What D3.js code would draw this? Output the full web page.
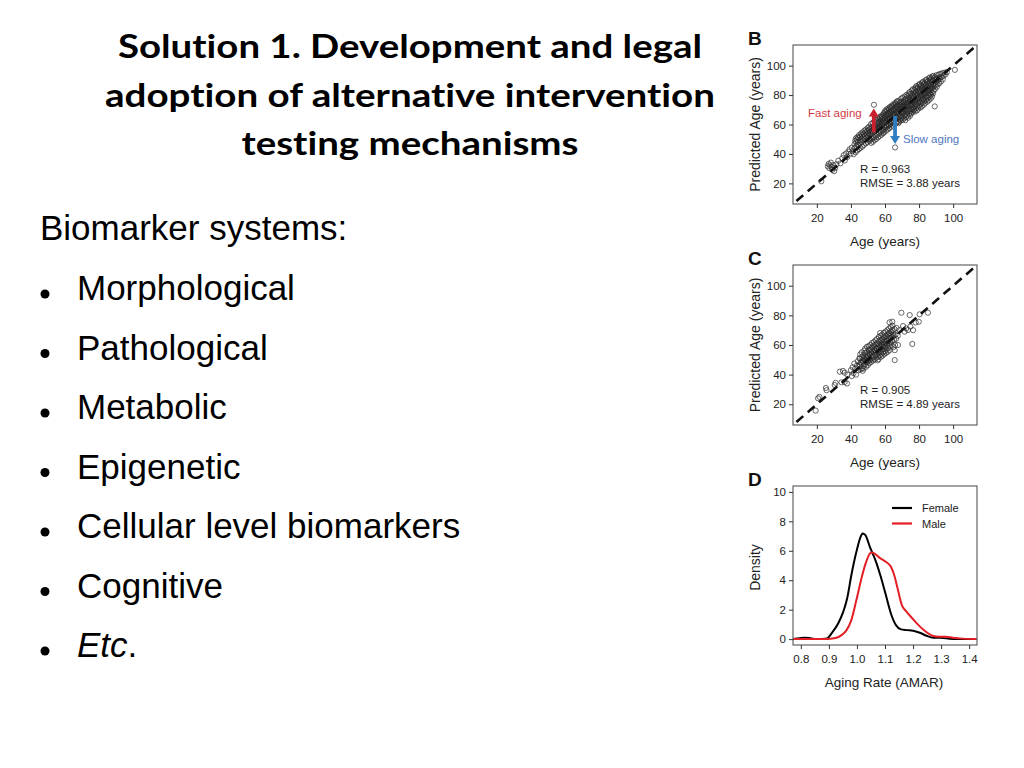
<!DOCTYPE html>
<html><head><meta charset="utf-8">
<script src="https://cdn.jsdelivr.net/npm/d3@7"></script>
<style>body{margin:0;background:#fff}svg{display:block}text{font-variant-ligatures:none;font-feature-settings:"liga" 0,"clig" 0}</style>
</head><body><svg id="c" width="1024" height="768"></svg>
<script>
// ---------------- DATA ----------------
const titleLines = ["Solution 1. Development and legal", "adoption of alternative intervention", "testing mechanisms"];
const bulletHeader = "Biomarker systems:";
const bulletItems = ["Morphological", "Pathological", "Metabolic", "Epigenetic", "Cellular level biomarkers", "Cognitive", "Etc."];

const scatterTicks = [20, 40, 60, 80, 100];
const densityXTicks = [0.8, 0.9, 1.0, 1.1, 1.2, 1.3, 1.4];
const densityYTicks = [0, 2, 4, 6, 8, 10];

const statsB = ["R = 0.963", "RMSE = 3.88 years"];
const statsC = ["R = 0.905", "RMSE = 4.89 years"];
const legendLabels = ["Female", "Male"];
const arrowLabels = ["Fast aging", "Slow aging"];
// arrows: [age, from predicted, to predicted]
const fastArrow = [53.4, 54.6, 70.8];
const slowArrow = [65.9, 65.8, 46.8];

// Panel B points [age, predicted age]
const panelBPoints = [
[22.6,21.4],[26.4,31.6],[26.9,33.2],[27.3,30.4],[27.8,32.3],[28.2,34.1],[28.7,31.0],[29.1,29.2],[29.6,32.4],[30.2,28.3],[30.8,30.6],[31.5,33.0],[32.6,35.4],[33.8,33.6],[34.9,37.1],[35.8,39.2],[36.4,35.6],[37.1,40.3],[37.9,38.0],[38.6,41.6],[39.2,43.1],[39.9,40.2],[40.5,44.3],[41.0,42.0],[41.6,39.8],
[42.3,44.1],[42.5,48.9],[42.8,41.2],[42.1,46.5],[42.9,50.6],
[43.2,45.3],[43.5,49.8],[43.7,42.4],[43.1,47.9],[43.9,51.5],
[44.2,46.1],[44.4,50.9],[44.7,43.3],[44.1,48.2],[44.8,52.8],
[45.3,47.2],[45.5,51.6],[45.6,44.1],[45.2,49.3],[45.9,53.9],
[46.2,48.1],[46.4,52.7],[46.7,45.0],[46.1,50.3],[46.8,54.6],
[47.3,49.2],[47.5,53.5],[47.6,46.2],[47.2,51.1],[47.9,55.8],
[48.2,50.0],[48.4,54.6],[48.7,47.1],[48.1,52.3],[48.8,56.6],
[49.3,51.1],[49.5,55.4],[49.6,48.0],[49.2,53.2],[49.9,57.7],
[50.2,52.1],[50.4,56.3],[50.7,48.9],[50.1,54.2],[50.8,58.6],[50.5,50.2],
[51.1,52.8],[51.3,57.2],[51.5,49.6],[51.6,55.1],[51.8,60.3],[51.9,47.5],[51.4,54.0],
[52.1,53.6],[52.3,58.1],[52.5,50.4],[52.6,56.0],[52.8,61.1],[52.9,48.3],[52.4,55.2],
[53.1,54.5],[53.3,59.0],[53.5,51.3],[53.6,57.1],[53.8,62.2],[53.9,49.4],[53.4,56.3],[53.5,73.4],
[54.1,55.3],[54.3,59.8],[54.5,52.2],[54.6,58.0],[54.8,63.1],[54.9,50.2],[54.4,57.2],
[55.1,56.4],[55.3,60.9],[55.5,53.0],[55.6,58.8],[55.8,64.2],[55.9,51.3],[55.4,57.9],
[56.1,57.3],[56.3,61.8],[56.5,54.1],[56.6,59.7],[56.8,65.0],[56.9,52.2],[56.4,58.6],[56.2,63.4],
[57.1,58.2],[57.3,62.6],[57.5,55.0],[57.6,60.6],[57.8,65.9],[57.9,53.1],[57.4,59.5],[57.2,64.2],
[58.1,59.1],[58.3,63.5],[58.5,55.9],[58.6,61.5],[58.8,66.8],[58.9,54.0],[58.4,60.4],[58.2,65.1],
[59.0,60.0],[59.1,64.4],[59.2,56.8],[59.3,62.3],[59.4,67.6],[59.5,54.9],[59.6,61.3],[59.7,66.0],[59.8,58.4],[59.9,69.0],
[60.0,61.1],[60.1,65.2],[60.2,57.6],[60.3,63.4],[60.4,68.5],[60.5,55.7],[60.6,62.1],[60.7,66.9],[60.8,59.3],[60.9,70.2],
[61.0,62.0],[61.1,66.3],[61.2,58.5],[61.3,64.1],[61.4,69.4],[61.5,56.6],[61.6,63.2],[61.7,67.8],[61.8,60.1],[61.9,71.0],
[62.0,62.8],[62.1,67.1],[62.2,59.4],[62.3,65.2],[62.4,70.3],[62.5,57.5],[62.6,64.0],[62.7,68.7],[62.8,61.2],[62.9,71.9],
[63.0,63.7],[63.1,68.0],[63.2,60.3],[63.3,66.1],[63.4,71.2],[63.5,58.4],[63.6,64.9],[63.7,69.6],[63.8,62.0],[63.9,72.8],
[64.0,64.6],[64.1,68.9],[64.2,61.2],[64.3,67.0],[64.4,72.1],[64.5,59.3],[64.6,65.8],[64.7,70.5],[64.8,62.9],[64.9,73.7],
[65.0,65.5],[65.1,69.8],[65.2,62.1],[65.3,67.9],[65.4,73.0],[65.5,60.2],[65.6,66.7],[65.7,71.4],[65.8,63.8],[65.9,74.6],
[66.0,66.4],[66.1,70.7],[66.2,63.0],[66.3,68.8],[66.4,73.9],[66.5,61.1],[66.6,67.6],[66.7,72.3],[66.8,64.7],[66.9,75.5],[65.9,44.4],
[67.0,71.9],[67.1,64.2],[67.2,69.0],[67.3,75.8],[67.4,62.1],[67.5,68.0],[67.6,73.3],[67.7,66.1],[67.8,70.4],[67.9,60.9],
[68.0,67.3],[68.1,73.6],[68.2,61.8],[68.3,70.1],[68.4,76.4],[68.5,65.0],[68.6,71.8],[68.7,63.4],[68.8,69.3],[68.9,74.9],
[69.0,70.8],[69.1,66.2],[69.2,75.1],[69.3,62.7],[69.4,72.4],[69.5,68.5],[69.6,77.6],[69.7,64.3],[69.8,71.2],[69.9,67.4],
[70.0,73.7],[70.1,65.4],[70.2,70.3],[70.3,78.2],[70.4,63.2],[70.5,71.9],[70.6,67.8],[70.7,75.6],[70.8,69.1],[70.9,72.8],
[71.0,68.6],[71.1,75.2],[71.2,64.1],[71.3,72.3],[71.4,79.0],[71.5,66.7],[71.6,73.8],[71.7,70.2],[71.8,77.1],[71.9,62.9],
[72.0,71.6],[72.1,67.3],[72.2,76.9],[72.3,65.0],[72.4,74.2],[72.5,69.8],[72.6,80.1],[72.7,72.9],[72.8,68.2],[72.9,75.7],
[73.0,74.8],[73.1,66.1],[73.2,72.0],[73.3,79.4],[73.4,69.3],[73.5,77.2],[73.6,64.6],[73.7,73.1],[73.8,70.7],[73.9,81.0],
[74.0,72.5],[74.1,78.3],[74.2,67.2],[74.3,75.4],[74.4,82.0],[74.5,70.1],[74.6,76.8],[74.7,65.9],[74.8,73.6],[74.9,79.7],
[75.0,76.2],[75.1,69.0],[75.2,80.8],[75.3,73.4],[75.4,67.5],[75.5,78.1],[75.6,71.7],[75.7,83.1],[75.8,74.9],[75.9,70.3],
[76.0,73.2],[76.1,79.6],[76.2,68.4],[76.3,77.0],[76.4,84.0],[76.5,71.3],[76.6,75.5],[76.7,81.8],[76.8,69.7],[76.9,78.4],
[77.0,78.9],[77.1,70.2],[77.2,75.1],[77.3,83.6],[77.4,72.6],[77.5,80.4],[77.6,68.8],[77.7,76.7],[77.8,85.0],[77.9,74.0],
[78.0,76.3],[78.1,82.2],[78.2,71.0],[78.3,79.3],[78.4,86.1],[78.5,73.9],[78.6,77.8],[78.7,84.4],[78.8,69.6],[78.9,80.9],
[79.0,80.1],[79.1,72.4],[79.2,77.3],[79.3,85.3],[79.4,74.8],[79.5,82.6],[79.6,70.9],[79.7,78.6],[79.8,86.9],[79.9,76.0],
[80.0,78.1],[80.1,84.0],[80.2,72.8],[80.3,81.1],[80.4,87.6],[80.5,75.4],[80.6,79.7],[80.7,85.9],[80.8,71.5],[80.9,82.8],
[81.0,81.7],[81.1,74.2],[81.2,78.9],[81.3,86.8],[81.4,76.4],[81.5,84.1],[81.6,72.3],[81.7,80.2],[81.8,88.5],[81.9,77.6],
[82.0,79.8],[82.1,85.5],[82.2,74.9],[82.3,82.7],[82.4,89.1],[82.5,77.2],[82.6,81.1],[82.7,87.3],[82.8,73.4],[82.9,84.2],
[83.0,83.4],[83.1,76.0],[83.2,80.6],[83.3,88.2],[83.4,78.1],[83.5,85.8],[83.6,74.6],[83.7,82.0],[83.8,90.0],[83.9,79.3],
[84.0,81.5],[84.1,87.0],[84.2,76.8],[84.3,84.5],[84.4,90.6],[84.5,79.0],[84.6,82.9],[84.7,88.8],[84.8,75.5],[84.9,85.9],
[85.0,85.1],[85.1,78.0],[85.2,82.4],[85.3,89.6],[85.4,80.0],[85.5,87.2],[85.6,76.5],[85.7,83.7],[85.8,91.4],[85.9,81.2],
[86.0,83.2],[86.1,88.6],[86.2,78.9],[86.3,86.0],[86.4,92.0],[86.5,80.8],[86.6,84.6],[86.7,90.3],[86.8,77.6],[86.9,87.5],
[87.0,86.9],[87.1,80.2],[87.2,84.1],[87.3,91.1],[87.4,82.0],[87.5,88.7],[87.6,79.0],[87.7,85.5],[87.8,92.6],
[88.0,84.8],[88.1,90.0],[88.2,81.1],[88.3,87.6],[88.4,93.0],[88.5,82.9],[88.6,86.2],[88.7,91.5],
[89.0,88.1],[89.2,72.3],[89.3,84.0],[89.5,92.2],[89.7,86.5],[89.9,90.8],
[90.1,89.0],[90.3,93.6],[90.5,85.6],[90.8,91.2],[90.9,87.4],
[91.2,90.1],[91.5,93.9],[91.8,87.9],[91.9,92.0],
[92.2,91.0],[92.5,94.4],[92.8,89.2],
[93.2,92.3],[93.6,94.8],[93.9,90.6],
[94.3,93.0],[94.8,95.2],[95.5,94.0],[96.3,95.6],[101.0,97.1]
];

// Panel C points [age, predicted age]
const panelCPoints = [
[19.3,15.7],[20.7,24.0],[21.5,25.0],[25.3,31.0],[25.7,29.5],[30.5,33.0],[31.0,34.5],[33.5,42.0],[34.5,34.8],[35.3,42.5],[36.3,41.3],[36.3,35.0],[37.7,34.0],[38.0,40.0],
[40.0,43.0],[40.5,39.0],[41.0,45.0],[41.5,41.0],[42.0,47.5],[42.5,44.0],[43.0,40.0],[43.5,46.0],[44.0,49.0],[44.5,43.0],[45.0,45.5],[45.0,51.0],
[45.1,46.8],[45.3,50.9],[45.6,43.5],[45.8,48.2],[45.4,53.6],
[46.1,47.5],[46.4,44.2],[46.6,51.8],[46.8,49.0],[46.3,55.0],[46.9,42.6],
[47.1,49.6],[47.3,53.1],[47.5,46.0],[47.7,51.2],[47.9,56.3],[47.4,44.1],
[48.1,50.2],[48.3,47.1],[48.5,54.7],[48.7,52.0],[48.9,45.3],[48.4,57.6],[48.6,49.0],
[49.1,51.6],[49.3,48.2],[49.5,55.3],[49.7,53.0],[49.9,46.4],[49.4,58.8],[49.6,50.1],
[50.1,52.5],[50.3,49.3],[50.5,56.6],[50.7,54.1],[50.9,47.8],[50.4,59.2],[50.6,51.0],
[51.1,53.8],[51.3,50.0],[51.5,57.4],[51.7,55.2],[51.9,48.6],[51.4,60.1],
[52.1,54.1],[52.3,51.2],[52.5,58.3],[52.7,56.0],[52.9,49.5],[52.4,61.3],[52.6,53.0],
[53.1,55.4],[53.3,52.0],[53.5,59.6],[53.7,57.1],[53.9,50.3],[53.4,62.0],
[54.1,56.2],[54.3,53.1],[54.5,60.4],[54.7,58.0],[54.9,51.4],[54.4,63.2],[54.6,55.0],
[55.1,57.5],[55.3,54.0],[55.5,61.2],[55.7,59.0],[55.9,52.1],[55.4,64.1],[55.6,49.6],
[56.1,58.1],[56.3,55.2],[56.5,62.5],[56.7,60.1],[56.9,53.0],[56.4,65.4],[56.6,57.0],[56.2,50.4],
[57.1,59.0],[57.3,56.1],[57.5,63.3],[57.7,61.0],[57.9,54.2],[57.4,66.2],[57.6,52.0],[57.2,68.1],
[58.1,60.2],[58.3,57.0],[58.5,64.1],[58.7,62.0],[58.9,55.1],[58.4,67.0],[58.6,52.8],[58.2,59.0],
[59.1,61.0],[59.3,58.2],[59.5,65.2],[59.7,63.1],[59.9,56.0],[59.4,68.3],[59.6,53.9],[59.2,60.0],
[60.1,62.1],[60.3,59.0],[60.5,66.0],[60.7,64.0],[60.9,57.1],[60.4,69.1],[60.6,54.7],[60.2,61.0],
[61.1,63.0],[61.3,60.1],[61.5,67.2],[61.7,65.1],[61.9,58.0],[61.4,70.0],[61.6,55.5],
[62.1,63.8],[62.3,61.0],[62.5,68.0],[62.7,66.0],[62.9,59.1],[62.4,71.2],[62.6,56.4],[62.7,75.3],
[63.1,64.6],[63.3,62.0],[63.5,69.1],[63.7,67.0],[63.9,60.0],[63.4,72.0],[64.3,75.7],
[64.1,65.5],[64.3,62.8],[64.5,70.0],[64.7,67.8],[64.9,58.5],[64.4,73.0],
[65.1,66.3],[65.3,63.5],[65.5,70.8],[65.7,56.5],[65.9,60.0],[65.7,49.8],
[66.1,67.0],[66.5,64.2],[66.8,71.5],[67.6,60.0],[67.5,66.2],[68.5,70.0],
[69.6,81.8],[70.6,72.8],[71.5,69.0],[72.5,71.2],[73.5,70.1],[74.5,80.2],[74.9,72.5],[76.0,60.7],[76.5,70.0],[78.0,75.2],[79.8,75.7],[80.3,80.7],[85.2,81.8]
];

// Panel D density curves [aging rate, density]
const femaleDensity = [
[0.773,0.0],[0.795,0.06],[0.814,0.10],[0.835,0.06],[0.856,0.0],[0.875,0.01],[0.894,0.05],[0.910,0.40],[0.933,1.06],[0.951,1.85],[0.965,2.76],[0.980,4.34],[0.998,5.93],[1.013,6.95],[1.020,7.17],[1.030,7.06],[1.046,6.27],[1.068,5.25],[1.085,4.23],[1.103,2.99],[1.121,1.74],[1.139,0.95],[1.157,0.66],[1.177,0.61],[1.200,0.57],[1.224,0.43],[1.248,0.23],[1.272,0.09],[1.295,0.09],[1.319,0.05],[1.355,0.0],[1.426,0.0]
];
const maleDensity = [
[0.773,0.0],[0.820,0.0],[0.868,0.0],[0.897,0.01],[0.927,0.09],[0.945,0.27],[0.963,0.61],[0.980,1.29],[0.998,2.65],[1.016,4.12],[1.031,5.14],[1.046,5.81],[1.052,5.88],[1.063,5.81],[1.081,5.52],[1.103,5.25],[1.121,4.91],[1.133,4.34],[1.145,3.44],[1.160,2.31],[1.175,1.90],[1.198,1.40],[1.222,0.90],[1.246,0.50],[1.269,0.23],[1.293,0.16],[1.317,0.16],[1.341,0.09],[1.364,0.05],[1.426,0.0]
];

// ---------------- DRAWING ----------------
const svg = d3.select("#c");
const SANS = "'Liberation Sans', Arial, Helvetica, sans-serif";
const AX = "#333";

// Title
const titleWidths = [584, 610, 337];
titleLines.forEach((t, i) => {
  svg.append("text")
    .attr("x", 410).attr("y", 58 + i * 48.5)
    .attr("text-anchor", "middle")
    .attr("font-family", "Lato, 'Open Sans', sans-serif")
    .attr("font-weight", 700).attr("font-size", 33)
    .attr("textLength", titleWidths[i]).attr("lengthAdjust", "spacingAndGlyphs")
    .attr("fill", "#000").text(t);
});

// Bullet list
svg.append("text").attr("x", 40).attr("y", 240)
  .attr("font-family", SANS).attr("font-size", 35).attr("fill", "#000").text(bulletHeader);
bulletItems.forEach((t, i) => {
  const yb = 300 + i * 59.5;
  svg.append("circle").attr("cx", 45).attr("cy", yb - 6).attr("r", 4.5).attr("fill", "#000");
  const tx = svg.append("text").attr("x", 77).attr("y", yb)
    .attr("font-family", SANS).attr("font-size", 35).attr("fill", "#000");
  if (t === "Etc.") {
    tx.append("tspan").attr("font-style", "italic").text("Etc");
    tx.append("tspan").text(".");
  } else tx.text(t);
});

const L = 793, R = 977;

function styleAxis(g) {
  g.select(".domain").remove();
  g.selectAll(".tick line").attr("stroke", AX).attr("stroke-width", 1);
  g.selectAll(".tick text").attr("fill", "#222").attr("font-family", SANS).attr("font-size", 11.5);
}

function frame(T, B) {
  svg.append("rect").attr("x", L).attr("y", T).attr("width", R - L).attr("height", B - T)
    .attr("fill", "none").attr("stroke", "#444").attr("stroke-width", 1);
}

function scatterPanel(T, B, pts, letter, stats, withArrows) {
  const x = d3.scaleLinear().domain([6, 114]).range([L, R]);
  const y = d3.scaleLinear().domain([6, 114]).range([B, T]);
  const clipId = "clip" + letter;
  svg.append("clipPath").attr("id", clipId).append("rect")
    .attr("x", L).attr("y", T).attr("width", R - L).attr("height", B - T);
  const g = svg.append("g").attr("clip-path", `url(#${clipId})`);
  g.selectAll("circle").data(pts).join("circle")
    .attr("cx", d => x(d[0])).attr("cy", d => y(d[1])).attr("r", 2.6)
    .attr("fill", "none").attr("stroke", "#2a2a2a").attr("stroke-width", 0.7);
  g.append("line")
    .attr("x1", x(8)).attr("y1", y(8)).attr("x2", x(114)).attr("y2", y(114))
    .attr("stroke", "#111").attr("stroke-width", 2.6).attr("stroke-dasharray", "9,6");
  frame(T, B);
  svg.append("g").attr("transform", `translate(0,${B})`)
    .call(d3.axisBottom(x).tickValues(scatterTicks).tickSize(4).tickPadding(6)).call(styleAxis);
  svg.append("g").attr("transform", `translate(${L},0)`)
    .call(d3.axisLeft(y).tickValues(scatterTicks).tickSize(4).tickPadding(3)).call(styleAxis);
  svg.append("text").attr("x", 885).attr("y", B + 42).attr("text-anchor", "middle")
    .attr("font-family", SANS).attr("font-size", 13.5).attr("fill", "#222").text("Age (years)");
  svg.append("text").attr("transform", `translate(760,${(T + B) / 2}) rotate(-90)`)
    .attr("text-anchor", "middle").attr("font-family", SANS).attr("font-size", 14).attr("fill", "#222")
    .text("Predicted Age (years)");
  svg.append("text").attr("x", 748).attr("y", T).attr("font-family", SANS).attr("font-weight", 700)
    .attr("font-size", 19).attr("fill", "#111").text(letter);
  stats.forEach((s, i) => {
    svg.append("text").attr("x", 860).attr("y", B - 31 + i * 13.7)
      .attr("font-family", SANS).attr("font-size", 11.5).attr("fill", "#222").text(s);
  });
  if (withArrows) {
    const arrow = (a, col) => {
      const ax = x(a[0]), y0 = y(a[1]), y1 = y(a[2]);
      const dir = y1 < y0 ? -1 : 1;
      svg.append("line").attr("x1", ax).attr("x2", ax).attr("y1", y0).attr("y2", y1 - dir * 7)
        .attr("stroke", col).attr("stroke-width", 3.8);
      svg.append("path").attr("d", `M${ax - 5},${y1 - dir * 8}L${ax + 5},${y1 - dir * 8}L${ax},${y1}Z`).attr("fill", col);
    };
    arrow(fastArrow, "#c8202f");
    arrow(slowArrow, "#2f7ec2");
    svg.append("text").attr("x", 808).attr("y", y(fastArrow[2]) + 8).attr("font-family", SANS)
      .attr("font-size", 11.5).attr("fill", "#d23a47").text(arrowLabels[0]);
    svg.append("text").attr("x", 903).attr("y", y(slowArrow[2]) - 1).attr("font-family", SANS)
      .attr("font-size", 11.5).attr("fill", "#4f76bb").text(arrowLabels[1]);
  }
}

scatterPanel(45, 204, panelBPoints, "B", statsB, true);
scatterPanel(265, 425, panelCPoints, "C", statsC, false);

// Panel D
(function () {
  const T = 486, B = 645;
  const x = d3.scaleLinear().domain([0.772, 1.428]).range([L, R]);
  const y = d3.scaleLinear().domain([-0.4, 10.4]).range([B, T]);
  svg.append("clipPath").attr("id", "clipD").append("rect")
    .attr("x", L).attr("y", T).attr("width", R - L).attr("height", B - T);
  const g = svg.append("g").attr("clip-path", "url(#clipD)");
  const line = d3.line().x(d => x(d[0])).y(d => y(d[1])).curve(d3.curveMonotoneX);
  g.append("path").attr("d", line(femaleDensity)).attr("fill", "none").attr("stroke", "#000").attr("stroke-width", 2);
  g.append("path").attr("d", line(maleDensity)).attr("fill", "none").attr("stroke", "#e31e24").attr("stroke-width", 2);
  frame(T, B);
  svg.append("g").attr("transform", `translate(0,${B})`)
    .call(d3.axisBottom(x).tickValues(densityXTicks).tickFormat(d3.format(".1f")).tickSize(4).tickPadding(6)).call(styleAxis);
  svg.append("g").attr("transform", `translate(${L},0)`)
    .call(d3.axisLeft(y).tickValues(densityYTicks).tickSize(4).tickPadding(3)).call(styleAxis);
  svg.append("text").attr("x", 884).attr("y", B + 42).attr("text-anchor", "middle")
    .attr("font-family", SANS).attr("font-size", 13.5).attr("fill", "#222").text("Aging Rate (AMAR)");
  svg.append("text").attr("transform", `translate(760,${(T + B) / 2 + 2}) rotate(-90)`)
    .attr("text-anchor", "middle").attr("font-family", SANS).attr("font-size", 14).attr("fill", "#222").text("Density");
  svg.append("text").attr("x", 748).attr("y", T).attr("font-family", SANS).attr("font-weight", 700)
    .attr("font-size", 19).attr("fill", "#111").text("D");
  const cols = ["#000", "#e31e24"];
  legendLabels.forEach((lab, i) => {
    const ly = 508 + i * 15.5;
    svg.append("line").attr("x1", 892).attr("x2", 912).attr("y1", ly).attr("y2", ly)
      .attr("stroke", cols[i]).attr("stroke-width", 2.2);
    svg.append("text").attr("x", 922).attr("y", ly + 4).attr("font-family", SANS).attr("font-size", 11)
      .attr("fill", "#222").text(lab);
  });
})();
</script>
</body></html>
